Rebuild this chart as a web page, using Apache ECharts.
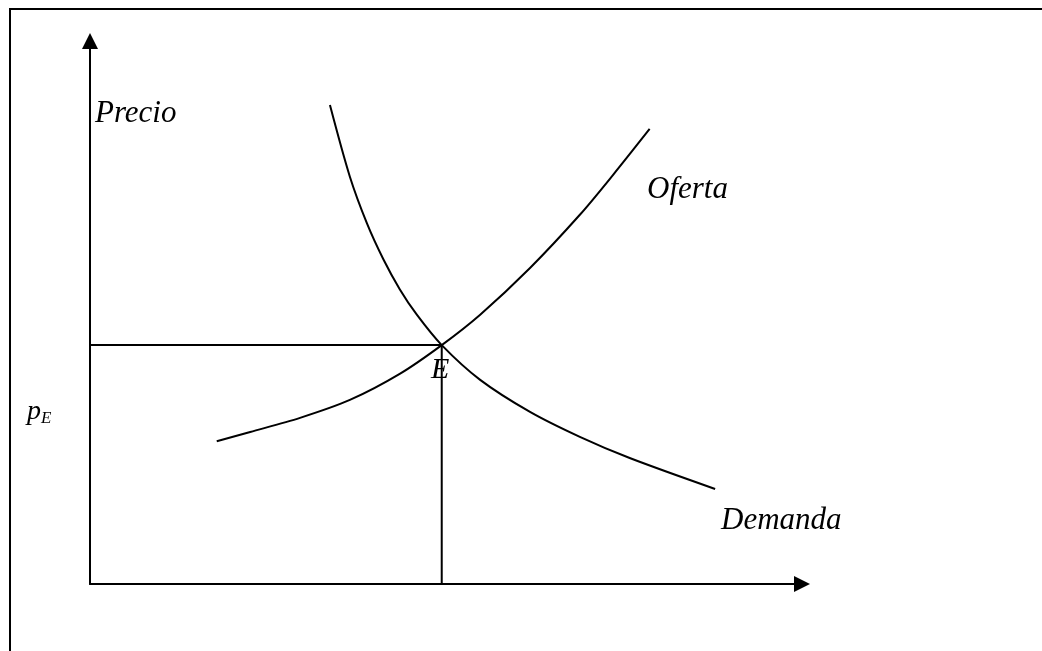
<!DOCTYPE html>
<html>
<head>
<meta charset="utf-8">
<script src="https://cdn.jsdelivr.net/npm/echarts@6/dist/echarts.min.js"></script>
<style>
  html, body { margin: 0; padding: 0; background: #fff; }
  #chart { width: 1042px; height: 651px; }
</style>
</head>
<body>
<div id="chart"></div>
<script>
// curvas de oferta y demanda (cantidad, precio) en escala 0-100
var oferta = [[17.8, 26.3], [22.5, 28.0], [29.5, 30.6], [36.5, 33.9], [43.5, 38.7],
  [49.4, 44.0], [54.8, 49.6], [61.8, 58.2], [68.8, 68.0], [73.5, 75.4], [78.6, 83.8]];
var demanda = [[33.7, 88.2], [36.5, 75.0], [38.9, 66.4], [41.2, 59.8], [43.5, 54.3],
  [45.9, 49.6], [49.4, 44.0], [54.8, 37.6], [61.8, 31.7], [68.8, 27.1], [75.8, 23.2], [87.8, 17.5]];
var equilibrio = [49.4, 44.0];
// lineas de referencia del punto E
var guias = [[0, equilibrio[1]], equilibrio, [equilibrio[0], 0]];

var serif = '"Liberation Serif", "DejaVu Serif", serif';

var myChart = echarts.init(document.getElementById('chart'));
var ejeLinea = {
  show: true, symbol: ['none', 'triangle'], symbolSize: [16, 16],
  lineStyle: { color: '#000', width: 2 }
};
var option = {
  animation: false,
  backgroundColor: '#fff',
  grid: { left: 90, right: 1042 - 802, top: 41, bottom: 651 - 584 },
  xAxis: {
    type: 'value', min: 0, max: 100, axisLine: ejeLinea,
    axisTick: { show: false }, axisLabel: { show: false }, splitLine: { show: false }
  },
  yAxis: {
    type: 'value', min: 0, max: 100, axisLine: ejeLinea,
    axisTick: { show: false }, axisLabel: { show: false }, splitLine: { show: false }
  },
  series: [
    {
      name: 'Oferta', type: 'line', data: oferta, smooth: 0.3,
      showSymbol: false, lineStyle: { color: '#000', width: 2 }
    },
    {
      name: 'Demanda', type: 'line', data: demanda, smooth: 0.3,
      showSymbol: false, lineStyle: { color: '#000', width: 2 }
    },
    {
      name: 'guias', type: 'line', data: guias,
      showSymbol: false, lineStyle: { color: '#000', width: 2 }
    }
  ],
  graphic: [
    // marco
    { type: 'rect', shape: { x: 10, y: 9, width: 1200, height: 800 },
      style: { fill: 'none', stroke: '#000', lineWidth: 2 } },
    { type: 'text', x: 95, y: 114, style: { text: 'Precio', font: 'italic 31px ' + serif, fill: '#000', verticalAlign: 'middle' } },
    { type: 'text', x: 647, y: 190, style: { text: 'Oferta', font: 'italic 31px ' + serif, fill: '#000', verticalAlign: 'middle' } },
    { type: 'text', x: 721, y: 521, style: { text: 'Demanda', font: 'italic 31px ' + serif, fill: '#000', verticalAlign: 'middle' } },
    { type: 'text', x: 431, y: 370, style: { text: 'E', font: 'italic 30px ' + serif, fill: '#000', verticalAlign: 'middle' } },
    { type: 'text', x: 27, y: 412, style: {
      text: '{p|p}{s|E}', verticalAlign: 'middle',
      rich: {
        p: { fontFamily: serif, fontStyle: 'italic', fontSize: 28, color: '#000' },
        s: { fontFamily: serif, fontStyle: 'italic', fontSize: 17, color: '#000', padding: [14, 0, 0, 0] }
      }
    } }
  ]
};
myChart.setOption(option);
</script>
</body>
</html>
